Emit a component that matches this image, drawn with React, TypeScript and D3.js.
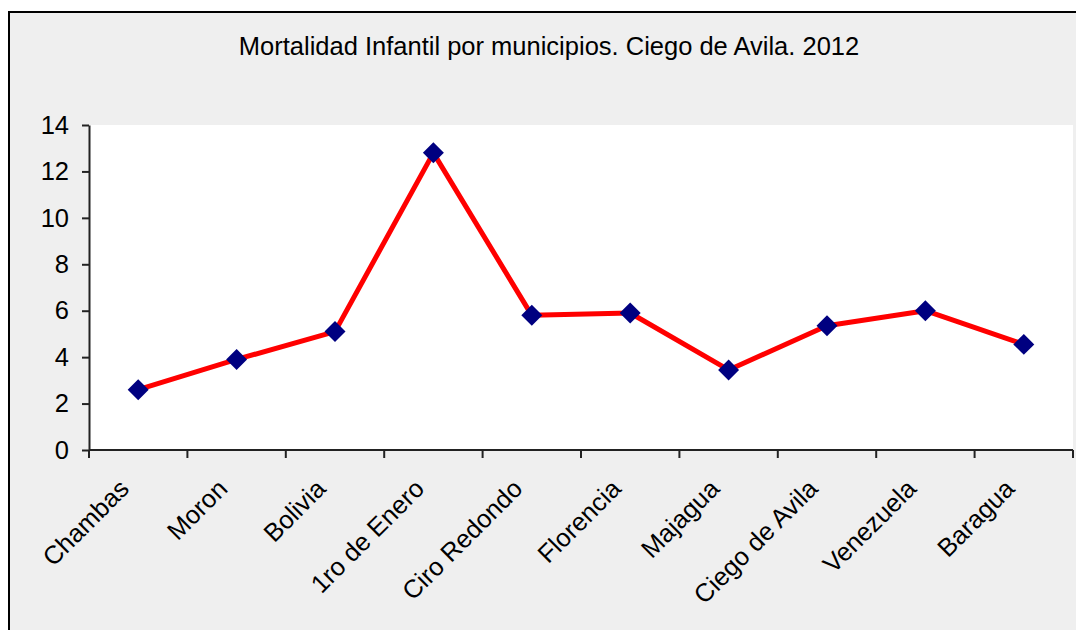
import { useEffect, useRef } from "react";
import * as d3 from "d3";

const municipios = [
  "Chambas",
  "Moron",
  "Bolivia",
  "1ro de Enero",
  "Ciro Redondo",
  "Florencia",
  "Majagua",
  "Ciego de Avila",
  "Venezuela",
  "Baragua",
];
const tasas = [2.6, 3.9, 5.1, 12.8, 5.8, 5.9, 3.45, 5.35, 6.0, 4.55];
const yTicks = [0, 2, 4, 6, 8, 10, 12, 14];
const titulo = "Mortalidad Infantil por municipios. Ciego de Avila. 2012";

export default function App() {
  const svgRef = useRef<SVGSVGElement>(null);

  useEffect(() => {
    const width = 1076;
    const height = 630;
    const margin = { top: 125, right: 3, bottom: 180, left: 89 };
    const w = width - margin.left - margin.right;
    const h = height - margin.top - margin.bottom;
    const font = "Arial, 'Liberation Sans', sans-serif";
    const fs = "25.5px";

    const svg = d3.select(svgRef.current);
    svg.selectAll("*").remove();

    // fondo y marco
    svg.append("rect").attr("width", width).attr("height", height).attr("fill", "#ffffff");
    svg
      .append("rect")
      .attr("x", 9)
      .attr("y", 12)
      .attr("width", 1200)
      .attr("height", 800)
      .attr("fill", "#efefef")
      .attr("stroke", "#000")
      .attr("stroke-width", 2);

    svg
      .append("text")
      .attr("x", 549)
      .attr("y", 55)
      .attr("text-anchor", "middle")
      .style("font-family", font)
      .style("font-size", fs)
      .attr("fill", "#000")
      .text(titulo);

    const g = svg.append("g").attr("transform", `translate(${margin.left},${margin.top})`);

    g.append("rect").attr("width", w).attr("height", h).attr("fill", "#fff");

    const x = d3.scaleBand().domain(municipios).range([0, w]);
    const y = d3.scaleLinear().domain([0, 14]).range([h, 0]);

    // eje y
    const yAxis = g
      .append("g")
      .call(d3.axisLeft(y).tickValues(yTicks).tickSize(7).tickPadding(13).tickSizeOuter(0));
    yAxis.selectAll("line, path").attr("stroke", "#222").attr("stroke-width", 2);
    yAxis
      .selectAll("text")
      .style("font-family", font)
      .style("font-size", fs)
      .attr("fill", "#000");

    // eje x con marcas entre categorías
    g.append("line")
      .attr("x1", 0)
      .attr("x2", w)
      .attr("y1", h)
      .attr("y2", h)
      .attr("stroke", "#222")
      .attr("stroke-width", 2);
    const bounds = municipios.map((m) => x(m)!).concat([w]);
    g.selectAll(".xtick")
      .data(bounds)
      .join("line")
      .attr("x1", (d) => d)
      .attr("x2", (d) => d)
      .attr("y1", h)
      .attr("y2", h + 8)
      .attr("stroke", "#222")
      .attr("stroke-width", 2);

    g.selectAll(".xlabel")
      .data(municipios)
      .join("text")
      .attr(
        "transform",
        (d) => `translate(${x(d)! + x.bandwidth() / 2 - 14},${h + 34}) rotate(-45)`
      )
      .attr("text-anchor", "end")
      .attr("dy", "0.35em")
      .style("font-family", font)
      .style("font-size", fs)
      .attr("fill", "#000")
      .text((d) => d);

    const cx = (i: number) => x(municipios[i])! + x.bandwidth() / 2;

    const line = d3
      .line<number>()
      .x((_, i) => cx(i))
      .y((d) => y(d));

    g.append("path")
      .datum(tasas)
      .attr("d", line)
      .attr("fill", "none")
      .attr("stroke", "#ff0000")
      .attr("stroke-width", 5)
      .attr("stroke-linejoin", "round");

    g.selectAll(".punto")
      .data(tasas)
      .join("path")
      .attr("d", d3.symbol().type(d3.symbolSquare).size(220)()!)
      .attr("transform", (d, i) => `translate(${cx(i)},${y(d)}) rotate(45)`)
      .attr("fill", "#000080");
  }, []);

  return (
    <svg
      ref={svgRef}
      width={1076}
      height={630}
      style={{ position: "absolute", left: 0, top: 0 }}
    />
  );
}
